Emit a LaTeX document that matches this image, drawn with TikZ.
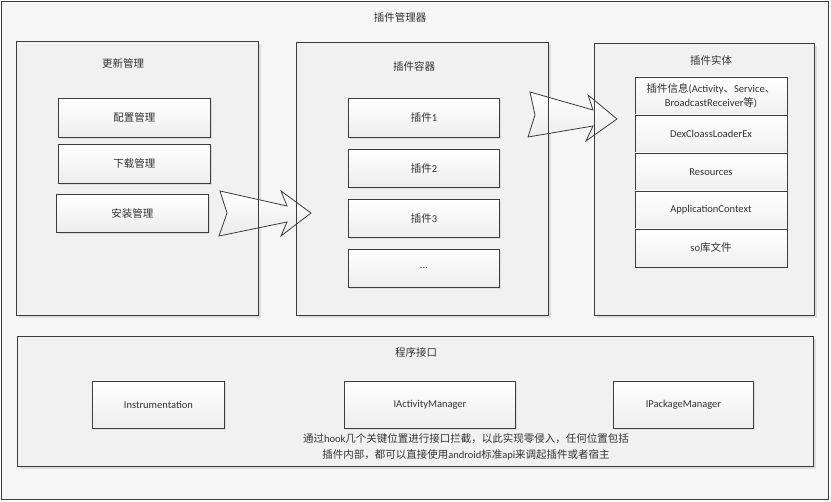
\documentclass[tikz,border=0pt]{standalone}
\usepackage{fontspec}
\setmainfont{Carlito}
\newfontfamily\cjk{Noto Sans CJK SC}
\newcommand{\zh}[1]{{\cjk #1}}
\usetikzlibrary{positioning,shadows}
\definecolor{pmLine}{HTML}{3C3C3C}
\definecolor{pmBack}{HTML}{F6F6F6}
\definecolor{pmPanel}{HTML}{F1F1F1}
\definecolor{pmShade}{HTML}{DDDDDD}
\definecolor{pmText}{HTML}{333333}

\begin{document}
\begin{tikzpicture}[x=1pt,y=-1pt,
  font=\fontsize{10.5}{13}\selectfont,
  text=pmText,
  node distance=6pt,
  frame/.style={draw=pmLine,fill=pmBack,line width=0.9pt,anchor=north west,inner sep=0pt},
  panel/.style={draw=pmLine,fill=pmPanel,line width=0.9pt,anchor=north west,inner sep=0pt,
                drop shadow={shadow xshift=3pt,shadow yshift=-3pt,fill=pmShade,opacity=1}},
  item/.style={draw=pmLine,line width=0.9pt,top color=white,bottom color=gray!14,
               anchor=north west,minimum width=152pt,minimum height=39pt,inner sep=1pt,
               drop shadow={shadow xshift=2pt,shadow yshift=-2pt,fill=pmShade,opacity=1}},
  cell/.style={draw=pmLine,line width=0.9pt,top color=white,bottom color=gray!12,
               anchor=north west,minimum width=152pt,minimum height=38pt,inner sep=1pt,
               outer sep=0pt,align=center},
  title/.style={inner sep=1pt},
  flow/.style={draw=pmLine,line width=0.8pt,top color=white,bottom color=gray!16},
  edge/.style={draw=pmLine,line width=0.9pt}]

\useasboundingbox (0,0) rectangle (831,502);

\node[frame,minimum width=827pt,minimum height=498pt] (mgr) at (1,1) {};
\node[title] (mgrT) at (400,17) {\zh{插件管理器}};

% three upper panels
\node[panel,minimum width=242pt,minimum height=274pt] (upd) at (16,41) {};
\node[panel,minimum width=252pt,minimum height=273pt] (host) at (296,42) {};
\node[panel,minimum width=220pt,minimum height=272pt] (ent) at (594,43) {};
\node[title] (updT) at (123,63) {\zh{更新管理}};
\node[title] (hostT) at (414,66) {\zh{插件容器}};
\node[title] (entT) at (711,60) {\zh{插件实体}};

\node[item] (cfg) at (58,98) {\zh{配置管理}};
\node[item,below=6pt of cfg] (dl) {\zh{下载管理}};
\node[item,below=10pt of dl,xshift=-2pt,minimum height=38pt] (inst) {\zh{安装管理}};

\node[item,minimum width=151pt] (p1) at (348,98) {\zh{插件}1};
\node[item,minimum width=151pt,minimum height=38pt,below=11pt of p1] (p2) {\zh{插件}2};
\node[item,minimum width=151pt,minimum height=38pt,below=11pt of p2] (p3) {\zh{插件}3};
\node[item,minimum width=151pt,minimum height=38pt,below=11pt of p3] (pmore) {...};

\node[cell,font=\fontsize{10.5}{14}\selectfont] (info) at (635,77)
     {\zh{插件信息}(Activity\zh{、}Service\zh{、}\\BroadcastReceiver\zh{等})};
\node[cell,below=0pt of info] (dex) {DexCloassLoaderEx};
\node[cell,below=0pt of dex] (res) {Resources};
\node[cell,below=0pt of res] (ctx) {ApplicationContext};
\node[cell,below=0pt of ctx] (so) {so\zh{库文件}};

% lower panel
\node[panel,minimum width=796pt,minimum height=130pt] (api) at (17,336) {};
\node[title] (apiT) at (416,353) {\zh{程序接口}};
\node[item,minimum width=132pt,minimum height=47pt] (instr) at (92,381) {Instrumentation};
\node[item,minimum width=171pt,minimum height=47pt] (iam) at (344,381) {IActivityManager};
\node[item,minimum width=140pt,minimum height=47pt] (ipm) at (613,381) {IPackageManager};
\node[title,align=center,font=\fontsize{10.5}{16}\selectfont] (note) at (466,447)
     {\zh{通过}hook\zh{几个关键位置进行接口拦截，以此实现零侵入，任何位置包括}\\
      \zh{插件内部，都可以直接使用}android\zh{标准}api\zh{来调起插件或者宿主}};

% block arrows
\path[flow] (220,191) -- (287,206) -- (281,191) -- (311,213) -- (281,236)
            -- (287,222) -- (219,236) -- (227,213) -- cycle;
\path[flow] (530,92) -- (593,110) -- (588,95) -- (617,119) -- (586,141)
            -- (593,126) -- (528,137) -- (535,115) -- cycle;
\foreach \a/\b in {upd.north east/upd.south east,host.north west/host.south west,
                   host.north east/host.south east,ent.north west/ent.south west}
  \draw[edge] (\a) -- (\b);
\end{tikzpicture}
\end{document}
